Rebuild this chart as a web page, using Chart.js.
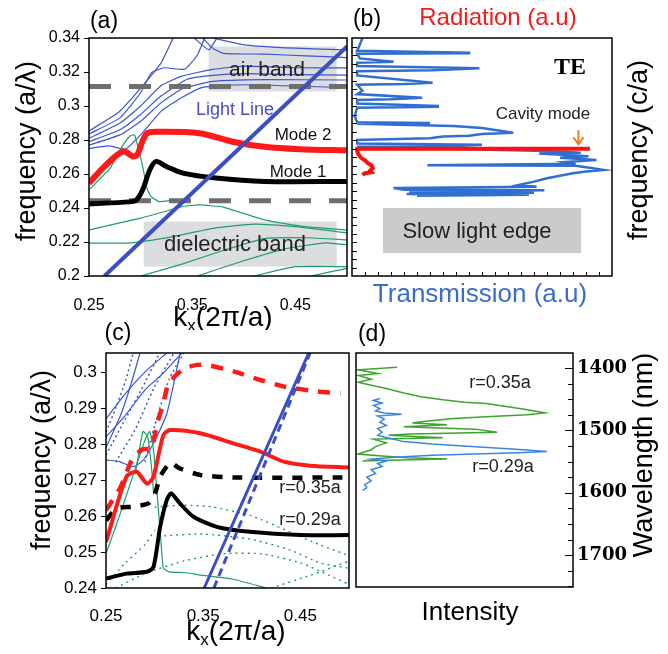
<!DOCTYPE html>
<html>
<head>
<meta charset="utf-8">
<script src="https://cdn.jsdelivr.net/npm/chart.js@4.4.1/dist/chart.umd.min.js"></script>
<style>
  body { margin: 0; background: #fff; }
  #wrap { position: relative; width: 668px; height: 654px; overflow: hidden; }
  canvas { position: absolute; }
</style>
</head>
<body>
<div id="wrap">
  <canvas id="chartA" style="left:0;top:0" width="350" height="330"></canvas>
  <canvas id="chartB" style="left:350px;top:0" width="318" height="330"></canvas>
  <canvas id="chartC" style="left:0;top:316px" width="352" height="338"></canvas>
  <canvas id="chartD" style="left:352px;top:316px" width="316" height="338"></canvas>
</div>
<script>
// ---- (a) band diagram, values [k, frequency] ----
var aXTicks = [0.25, 0.35, 0.45];
var aYTicks = [0.2, 0.22, 0.24, 0.26, 0.28, 0.3, 0.32, 0.34];
var aMode1 = [[0.25,0.2424],[0.289,0.2436],[0.296,0.2448],[0.302,0.2507],[0.309,0.2625],[0.315,0.2674],[0.325,0.2644],[0.341,0.2605],[0.373,0.2576],[0.42,0.2556],[0.5,0.2556]];
var aMode2 = [[0.25,0.2546],[0.265,0.2645],[0.283,0.2733],[0.2926,0.2703],[0.297,0.2715],[0.301,0.278],[0.306,0.2838],[0.315,0.2848],[0.357,0.284],[0.389,0.279],[0.42,0.276],[0.454,0.2746],[0.5,0.2739]];
var aLight = [[0.265,0.2],[0.5,0.335]];
var aGapEdges = [0.3115, 0.2442];
var aAirBand = [0.366, 0.49, 0.3086, 0.335];
var aDielBand = [0.303, 0.49, 0.2055, 0.232];
var aBlue = [
  [[0.25,0.2853],[0.278,0.296],[0.2976,0.3088],[0.32,0.3255],[0.3315,0.34]],
  [[0.25,0.2835],[0.28,0.293],[0.30,0.3078],[0.3106,0.3196],[0.3234,0.3225],[0.3428,0.3216],[0.355,0.33],[0.362,0.34]],
  [[0.25,0.281],[0.28,0.29],[0.30,0.30],[0.32,0.312],[0.34,0.3176],[0.37,0.3215],[0.40,0.3235],[0.45,0.3225],[0.5,0.3224]],
  [[0.25,0.279],[0.28,0.286],[0.30,0.295],[0.32,0.306],[0.345,0.3157],[0.37,0.318],[0.40,0.319],[0.45,0.3185],[0.5,0.3182]],
  [[0.25,0.277],[0.28,0.283],[0.30,0.291],[0.32,0.302],[0.34,0.31],[0.37,0.3145],[0.42,0.3155],[0.5,0.3153]],
  [[0.25,0.275],[0.27,0.2765],[0.285,0.2745],[0.30,0.283],[0.32,0.297],[0.34,0.305],[0.36,0.311],[0.40,0.3125],[0.5,0.3108]],
  [[0.36,0.34],[0.37,0.334],[0.38,0.331],[0.42,0.3305],[0.46,0.3295],[0.5,0.3285]],
  [[0.37,0.34],[0.40,0.336],[0.45,0.334],[0.5,0.333]],
  [[0.352,0.34],[0.366,0.333],[0.374,0.34]]
];
var aGreen = [
  [[0.25,0.2507],[0.27,0.263],[0.283,0.277],[0.29,0.2825],[0.294,0.283],[0.297,0.277],[0.302,0.2644],[0.306,0.252],[0.31,0.2468],[0.318,0.2438],[0.33,0.2445]],
  [[0.25,0.2271],[0.30,0.234],[0.341,0.2409],[0.357,0.2418],[0.38,0.2405],[0.42,0.233],[0.46,0.229],[0.5,0.227]],
  [[0.25,0.2193],[0.29,0.2195],[0.33,0.223],[0.37,0.228],[0.41,0.2305],[0.45,0.229],[0.5,0.2254]],
  [[0.30,0.2],[0.34,0.207],[0.38,0.215],[0.42,0.222],[0.46,0.2225],[0.5,0.2213]],
  [[0.355,0.2],[0.40,0.209],[0.44,0.216],[0.48,0.2195],[0.5,0.2183]],
  [[0.41,0.2],[0.45,0.2055],[0.5,0.2055]],
  [[0.465,0.2],[0.5,0.2045]]
];

// ---- (b) spectra, values [intensity, frequency] ----
var bYMinor = [0.205,0.21,0.215,0.22,0.225,0.23,0.235,0.24,0.245,0.25,0.255,0.26,0.265,0.27,0.275,0.28,0.285,0.29,0.295,0.3,0.305,0.31,0.315,0.32,0.325,0.33,0.335];
var bXMinor = [0.05,0.1,0.15,0.2,0.25,0.3,0.35,0.4,0.45,0.5,0.55,0.6,0.65,0.7,0.75,0.8,0.85,0.9,0.95];
var bRadiation = [[0.915,0.2749],[0.02,0.2749],[0.02,0.2735],[0.025,0.2715],[0.035,0.2695],[0.05,0.268],[0.06,0.2665],[0.075,0.265],[0.08,0.2635],[0.07,0.262],[0.075,0.261],[0.05,0.2605],[0.04,0.2595]];
var bTransmission = [[0.04,0.34],[0.03,0.336],[0.02,0.3325],[0.45,0.3314],[0.45,0.331],[0.02,0.3308],[0.03,0.328],[0.16,0.326],[0.02,0.3255],[0.02,0.3235],[0.49,0.3222],[0.31,0.321],[0.02,0.3205],[0.02,0.318],[0.31,0.3137],[0.2,0.313],[0.02,0.3125],[0.04,0.309],[0.02,0.307],[0.27,0.3049],[0.15,0.304],[0.02,0.3035],[0.02,0.3015],[0.33,0.3],[0.33,0.2995],[0.02,0.299],[0.01,0.294],[0.02,0.2905],[0.3,0.29],[0.02,0.2895],[0.39,0.2883],[0.5,0.287],[0.62,0.2843],[0.5,0.2835],[0.45,0.2825],[0.35,0.282],[0.3,0.281],[0.02,0.28],[0.02,0.2779],[0.5,0.2772],[0.4,0.2765],[0.02,0.276],[0.75,0.2735],[0.88,0.2725],[0.72,0.272],[0.91,0.2705],[0.8,0.2695],[0.94,0.2682],[0.82,0.267],[0.86,0.266],[0.29,0.2652],[0.86,0.2648],[0.92,0.2635],[0.966,0.2624],[0.9,0.2615],[0.85,0.2605],[0.8,0.259],[0.75,0.2575],[0.7,0.2555],[0.64,0.2535],[0.71,0.2525],[0.16,0.2518],[0.2,0.2508],[0.74,0.2505],[0.22,0.2495],[0.7,0.249],[0.21,0.2482],[0.68,0.2478],[0.25,0.2472]];
var bCavity = [0.871, 0.2857, 0.2775];
var bSlowLight = [0.119, 0.881, 0.2135, 0.24];

// ---- (c) two hole radii, values [k, frequency] ----
var cXTicks = [0.25, 0.35, 0.45];
var cYTicks = [0.24, 0.25, 0.26, 0.27, 0.28, 0.29, 0.3];
var cMode1r29 = [[0.25,0.2426],[0.271,0.244],[0.292,0.2445],[0.2988,0.2458],[0.3057,0.257],[0.3125,0.2644],[0.317,0.2663],[0.326,0.2635],[0.34,0.2598],[0.364,0.257],[0.398,0.2556],[0.45,0.2547],[0.5,0.2547]];
var cMode2r29 = [[0.25,0.2528],[0.271,0.2709],[0.2816,0.2723],[0.292,0.269],[0.2988,0.2709],[0.309,0.2825],[0.316,0.2839],[0.347,0.283],[0.381,0.2802],[0.409,0.2779],[0.433,0.2751],[0.46,0.274],[0.5,0.2735]];
var cMode1r35 = [[0.25,0.2588],[0.261,0.2621],[0.278,0.2626],[0.2935,0.2635],[0.3005,0.2663],[0.3057,0.2709],[0.316,0.2748],[0.326,0.2732],[0.347,0.2714],[0.381,0.2707],[0.5,0.2707]];
var cMode2r35 = [[0.25,0.2616],[0.265,0.268],[0.2765,0.2756],[0.287,0.2785],[0.297,0.2788],[0.3022,0.2853],[0.309,0.2913],[0.3143,0.2969],[0.33,0.301],[0.3435,0.302],[0.3538,0.302],[0.3813,0.3002],[0.4088,0.2978],[0.4328,0.296],[0.4672,0.2946],[0.4912,0.2941]];
var cLight = [[0.351,0.24],[0.4586,0.3053]];
var cLightR35 = [[0.361,0.24],[0.46,0.3053]];
var cBlue = [
  [[0.25,0.2756],[0.264,0.2751],[0.278,0.2737],[0.2885,0.2756],[0.2988,0.2802],[0.3126,0.2885],[0.3263,0.3053]],
  [[0.25,0.279],[0.265,0.288],[0.275,0.296],[0.285,0.3053]],
  [[0.25,0.287],[0.27,0.294],[0.29,0.3],[0.3125,0.3053]],
  [[0.25,0.282],[0.27,0.288],[0.29,0.295],[0.31,0.3],[0.328,0.3053]]
];
var cBlueDotted = [
  [[0.25,0.2833],[0.26,0.29],[0.27,0.2975],[0.278,0.3053]],
  [[0.25,0.277],[0.27,0.287],[0.29,0.297],[0.305,0.3053]],
  [[0.26,0.275],[0.28,0.284],[0.30,0.296],[0.32,0.3053]],
  [[0.29,0.275],[0.30,0.285],[0.315,0.298],[0.33,0.3053]]
];
var cGreen = [
  [[0.25,0.2496],[0.26,0.257],[0.27,0.265],[0.28,0.273],[0.29,0.281],[0.295,0.2835],[0.299,0.278],[0.302,0.268],[0.306,0.255],[0.309,0.2455],[0.315,0.2445],[0.33,0.2443],[0.35,0.2435],[0.38,0.2425],[0.415,0.24]],
  [[0.28,0.2716],[0.288,0.2835],[0.293,0.282],[0.297,0.273],[0.299,0.266]]
];
var cGreenDotted = [
  [[0.30,0.2625],[0.33,0.263],[0.36,0.2625],[0.40,0.26],[0.44,0.2555],[0.47,0.252],[0.5,0.249]],
  [[0.31,0.2545],[0.35,0.255],[0.40,0.2535],[0.44,0.2505],[0.47,0.247],[0.5,0.2455]],
  [[0.26,0.24],[0.29,0.244],[0.33,0.2475],[0.37,0.2495],[0.41,0.2495],[0.45,0.247],[0.48,0.2435],[0.5,0.241]],
  [[0.42,0.24],[0.46,0.2435],[0.5,0.2475]],
  [[0.25,0.241],[0.27,0.247],[0.29,0.252],[0.30,0.256]]
];

// ---- (d) measured spectra, values [intensity, wavelength nm] ----
var dYTicks = [1400, 1500, 1600, 1700];
var dYMinor = [1425,1450,1475,1525,1550,1575,1625,1650,1675,1725,1750];
var dR35 = [[0.19,1399],[0.01,1403],[0.10,1409],[0.01,1412],[0.07,1418],[0.01,1423],[0.06,1427],[0.14,1433],[0.22,1440],[0.30,1446],[0.40,1451],[0.50,1455],[0.60,1457],[0.70,1462],[0.79,1467],[0.87,1472],[0.79,1475],[0.60,1478],[0.45,1481],[0.30,1486],[0.26,1488],[0.42,1491],[0.22,1494],[0.55,1498],[0.65,1503],[0.25,1506],[0.15,1508],[0.40,1512],[0.08,1514],[0.14,1520],[0.09,1526],[0.07,1531],[0.01,1538],[0.12,1541],[0.24,1544],[0.42,1546],[0.15,1548],[0.03,1549]];
var dR29 = [[0.11,1449],[0.08,1452],[0.12,1456],[0.08,1460],[0.11,1465],[0.09,1469],[0.13,1472],[0.21,1474],[0.10,1477],[0.13,1482],[0.11,1487],[0.14,1492],[0.10,1497],[0.12,1503],[0.10,1508],[0.16,1513],[0.22,1518],[0.35,1522],[0.53,1526],[0.72,1530],[0.88,1534],[0.75,1536],[0.55,1538],[0.35,1540],[0.18,1543],[0.07,1546],[0.14,1549],[0.10,1553],[0.12,1558],[0.07,1563],[0.09,1569],[0.05,1575],[0.07,1581],[0.04,1587],[0.05,1592],[0.03,1596]];

Chart.defaults.font.family = "'Liberation Sans', Arial, sans-serif";
Chart.defaults.color = '#000';

var FONT = "'Liberation Sans', Arial, sans-serif";

function pts(arr) {
  return arr.map(function (p) { return { x: p[0], y: p[1] }; });
}

// one plain line dataset
function line(arr, color, width, dash, tension) {
  return {
    data: pts(arr),
    borderColor: color,
    borderWidth: width,
    borderDash: dash || [],
    pointRadius: 0,
    fill: false,
    tension: tension || 0,
    borderCapStyle: 'butt'
  };
}

function fixTicks(values) {
  return function (s) { s.ticks = values.map(function (v) { return { value: v }; }); };
}

function numLabel(v) { return String(+Number(v).toFixed(2)); }

// frame, shaded boxes, inner ticks, arrows and text labels
var decor = {
  id: 'decor',
  beforeDatasetsDraw: function (chart, args, o) {
    var ctx = chart.ctx, sx = chart.scales.x, sy = chart.scales.y;
    ctx.save();
    (o.boxes || []).forEach(function (b) {
      var x0 = sx.getPixelForValue(b.area[0]), x1 = sx.getPixelForValue(b.area[1]);
      var y0 = sy.getPixelForValue(b.area[2]), y1 = sy.getPixelForValue(b.area[3]);
      ctx.fillStyle = b.color;
      ctx.fillRect(Math.min(x0, x1), Math.min(y0, y1), Math.abs(x1 - x0), Math.abs(y1 - y0));
    });
    ctx.restore();
  },
  afterDraw: function (chart, args, o) {
    var ctx = chart.ctx, a = chart.chartArea, sx = chart.scales.x, sy = chart.scales.y;
    ctx.save();
    ctx.strokeStyle = '#000';
    ctx.lineWidth = 1.5;
    ctx.strokeRect(a.left, a.top, a.right - a.left, a.bottom - a.top);

    ctx.lineWidth = 1;
    (o.ticks || []).forEach(function (t) {
      t.values.forEach(function (v) {
        ctx.beginPath();
        if (t.side === 'left' || t.side === 'right') {
          var py = Math.round(sy.getPixelForValue(v)) + 0.5;
          var px = t.side === 'left' ? a.left : a.right;
          ctx.moveTo(px, py);
          ctx.lineTo(px + (t.side === 'left' ? t.len : -t.len), py);
        } else {
          var qx = Math.round(sx.getPixelForValue(v)) + 0.5;
          ctx.moveTo(qx, a.bottom);
          ctx.lineTo(qx, a.bottom - t.len);
        }
        ctx.stroke();
      });
    });

    (o.arrows || []).forEach(function (ar) {
      var x = sx.getPixelForValue(ar.at[0]);
      var y0 = sy.getPixelForValue(ar.at[1]), y1 = sy.getPixelForValue(ar.at[2]);
      ctx.strokeStyle = ar.color;
      ctx.lineWidth = 2;
      ctx.beginPath();
      ctx.moveTo(x, y0); ctx.lineTo(x, y1);
      ctx.moveTo(x - 5, y1 - 7); ctx.lineTo(x, y1); ctx.lineTo(x + 5, y1 - 7);
      ctx.stroke();
    });

    (o.texts || []).forEach(function (t) {
      ctx.save();
      ctx.translate(t.at[0], t.at[1]);
      if (t.rotate) ctx.rotate(t.rotate * Math.PI / 180);
      ctx.fillStyle = t.color || '#000';
      ctx.textBaseline = 'middle';
      ctx.textAlign = 'left';
      var parts = t.parts || [{ text: t.text, font: t.font }];
      var w = 0;
      parts.forEach(function (p) { ctx.font = p.font; w += ctx.measureText(p.text).width; });
      var x = -w / 2;
      parts.forEach(function (p) {
        ctx.font = p.font;
        ctx.fillText(p.text, x, p.dy || 0);
        x += ctx.measureText(p.text).width;
      });
      ctx.restore();
    });
    ctx.restore();
  }
};

function kTitle(x, y) {
  return { at: [x, y], parts: [
    { text: 'k', font: '28px ' + FONT },
    { text: 'x', font: '17px ' + FONT, dy: 8 },
    { text: '(2\u03c0/a)', font: '28px ' + FONT }
  ] };
}

var baseOptions = function () {
  return {
    responsive: false,
    animation: false,
    devicePixelRatio: 1,
    events: [],
    plugins: { legend: { display: false }, tooltip: { enabled: false } }
  };
};

// ---------- panel (a) ----------
var BLUE_THIN = '#3b55d2', GREEN_THIN = '#1f9d6c', RED = '#ff1a1a', LIGHT = '#3a4fc2';
var aSets = [line(aLight, LIGHT, 4), line(aMode1, '#000', 5, null, 0.3), line(aMode2, RED, 6, null, 0.3)];
aGapEdges.forEach(function (v) { aSets.push(line([[0.25, v], [0.5, v]], '#6e6e6e', 5, [22, 18])); });
aGreen.forEach(function (g) { aSets.push(line(g, GREEN_THIN, 1.2, null, 0.15)); });
aBlue.forEach(function (b) { aSets.push(line(b, BLUE_THIN, 1.2, null, 0.15)); });

var optA = baseOptions();
optA.layout = { padding: { left: 0, top: 38, right: 3, bottom: 0 } };
optA.scales = {
  x: { type: 'linear', min: 0.25, max: 0.5,
       afterBuildTicks: fixTicks(aXTicks), afterFit: function (s) { s.height = 54; },
       ticks: { font: { size: 16 }, padding: 20, maxRotation: 0, callback: numLabel },
       grid: { drawOnChartArea: false, drawTicks: false }, border: { display: false } },
  y: { type: 'linear', min: 0.2, max: 0.34,
       afterBuildTicks: fixTicks(aYTicks), afterFit: function (s) { s.width = 89; },
       ticks: { font: { size: 16 }, padding: 4, callback: numLabel },
       grid: { drawOnChartArea: false, tickLength: 5, color: '#000' }, border: { display: false } }
};
optA.plugins.decor = {
  boxes: [{ area: aAirBand, color: '#dcdde0' }, { area: aDielBand, color: '#dcdde0' }],
  texts: [
    { at: [104, 22], text: '(a)', font: '23px ' + FONT },
    { at: [28, 151], text: 'frequency (a/\u03bb)', font: '27px ' + FONT, rotate: -90 },
    kTitle(223, 318),
    { at: [267, 70], text: 'air band', font: '21px ' + FONT, color: '#222' },
    { at: [235, 245], text: 'dielectric band', font: '22px ' + FONT, color: '#222' },
    { at: [235, 110], text: 'Light Line', font: '18px ' + FONT, color: '#4b4bc8' },
    { at: [303, 135], text: 'Mode 2', font: '17px ' + FONT, color: '#111' },
    { at: [298, 172], text: 'Mode 1', font: '17px ' + FONT, color: '#111' }
  ]
};
new Chart(document.getElementById('chartA'), { type: 'line', data: { datasets: aSets }, options: optA, plugins: [decor] });

// ---------- panel (b) ----------
var optB = baseOptions();
optB.layout = { padding: { left: 2, top: 38, right: 56, bottom: 54 } };
optB.scales = {
  x: { type: 'linear', min: 0, max: 1, display: false },
  y: { type: 'linear', min: 0.2, max: 0.34, display: false }
};
optB.plugins.decor = {
  boxes: [{ area: bSlowLight, color: '#c9cbcd' }],
  ticks: [{ side: 'left', values: bYMinor, len: 5 }, { side: 'bottom', values: bXMinor, len: 4 }],
  arrows: [{ at: bCavity, color: '#f27a25' }],
  texts: [
    { at: [17, 20], text: '(b)', font: '23px ' + FONT },
    { at: [148, 18], text: 'Radiation (a.u)', font: '24px ' + FONT, color: '#f21c1c' },
    { at: [130, 295], text: 'Transmission (a.u)', font: '26px ' + FONT, color: '#3a6ccc' },
    { at: [290, 150], text: 'frequency (c/a)', font: '27px ' + FONT, rotate: -90 },
    { at: [220, 68], text: 'TE', font: "bold 24px 'Liberation Serif', serif" },
    { at: [193, 114], text: 'Cavity mode', font: '17px ' + FONT, color: '#222' },
    { at: [127, 232], text: 'Slow light edge', font: '22px ' + FONT, color: '#222' }
  ]
};
new Chart(document.getElementById('chartB'), {
  type: 'line',
  data: { datasets: [line(bRadiation, '#ff1010', 4), line(bTransmission, '#2f6fcf', 2.5)] },
  options: optB, plugins: [decor]
});

// ---------- panel (c) ----------
var cSets = [
  line(cLight, LIGHT, 3), line(cLightR35, LIGHT, 3, [8, 5]),
  line(cMode1r29, '#000', 4, null, 0.25), line(cMode2r29, RED, 4, null, 0.25),
  line(cMode1r35, '#000', 4.5, [10, 10], 0.2), line(cMode2r35, RED, 4.5, [12, 10], 0.15)
];
cGreen.forEach(function (g) { cSets.push(line(g, GREEN_THIN, 1.2, null, 0.15)); });
cGreenDotted.forEach(function (g) { cSets.push(line(g, GREEN_THIN, 1.4, [2, 4], 0.2)); });
cBlue.forEach(function (b) { cSets.push(line(b, BLUE_THIN, 1.2, null, 0.2)); });
cBlueDotted.forEach(function (b) { cSets.push(line(b, BLUE_THIN, 1.5, [2, 3], 0.2)); });

var optC = baseOptions();
optC.layout = { padding: { left: 0, top: 37, right: 3, bottom: 0 } };
optC.scales = {
  x: { type: 'linear', min: 0.25, max: 0.5,
       afterBuildTicks: fixTicks(cXTicks), afterFit: function (s) { s.height = 66; },
       ticks: { font: { size: 17 }, padding: 18, maxRotation: 0, callback: numLabel },
       grid: { drawOnChartArea: false, drawTicks: false }, border: { display: false } },
  y: { type: 'linear', min: 0.24, max: 0.3053,
       afterBuildTicks: fixTicks(cYTicks), afterFit: function (s) { s.width = 106; },
       ticks: { font: { size: 17 }, padding: 4, callback: numLabel },
       grid: { drawOnChartArea: false, tickLength: 5, color: '#000' }, border: { display: false } }
};
optC.plugins.decor = {
  texts: [
    { at: [118, 18], text: '(c)', font: '23px ' + FONT },
    { at: [43, 144], text: 'frequency (a/\u03bb)', font: '27px ' + FONT, rotate: -90 },
    kTitle(236, 316),
    { at: [310, 172], text: 'r=0.35a', font: '18px ' + FONT, color: '#222' },
    { at: [310, 204], text: 'r=0.29a', font: '18px ' + FONT, color: '#222' }
  ]
};
new Chart(document.getElementById('chartC'), { type: 'line', data: { datasets: cSets }, options: optC, plugins: [decor] });

// ---------- panel (d) ----------
var optD = baseOptions();
optD.layout = { padding: { left: 4, top: 37, right: 0, bottom: 67 } };
optD.scales = {
  x: { type: 'linear', min: 0, max: 1, display: false },
  y: { type: 'linear', position: 'right', reverse: true, min: 1376, max: 1751,
       afterBuildTicks: fixTicks(dYTicks), afterFit: function (s) { s.width = 95; },
       ticks: { font: { family: "'DejaVu Serif', serif", size: 18, weight: 'bold' }, padding: 4,
                callback: function (v) { return String(v); } },
       grid: { drawOnChartArea: false, drawTicks: false }, border: { display: false } }
};
optD.plugins.decor = {
  ticks: [{ side: 'right', values: dYTicks, len: 8 }, { side: 'right', values: dYMinor, len: 5 }],
  texts: [
    { at: [20, 19], text: '(d)', font: '23px ' + FONT },
    { at: [148, 67], text: 'r=0.35a', font: '18px ' + FONT, color: '#222' },
    { at: [151, 151], text: 'r=0.29a', font: '18px ' + FONT, color: '#222' },
    { at: [118, 297], text: 'Intensity', font: '26px ' + FONT },
    { at: [293, 139], text: 'Wavelength (nm)', font: '27px ' + FONT, rotate: -90 }
  ]
};
new Chart(document.getElementById('chartD'), {
  type: 'line',
  data: { datasets: [line(dR29, '#3a86de', 1.5), line(dR35, '#3ca42c', 1.5)] },
  options: optD, plugins: [decor]
});
</script>
</body>
</html>
